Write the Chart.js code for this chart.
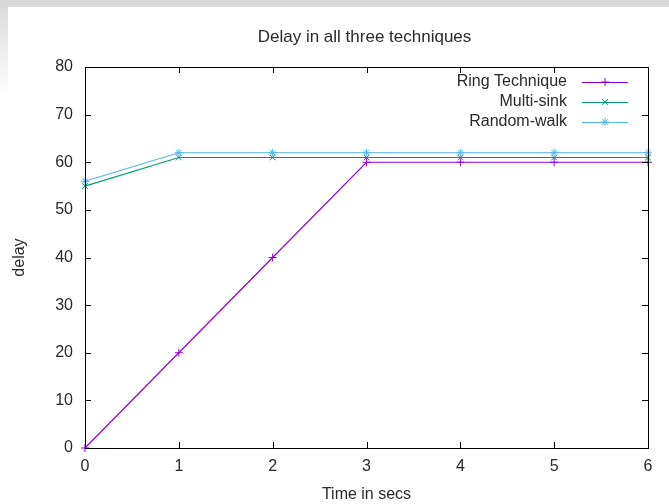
<!DOCTYPE html>
<html>
<head>
<meta charset="utf-8">
<script src="https://cdn.jsdelivr.net/npm/chart.js@4.4.0/dist/chart.umd.min.js"></script>
<style>
  body { margin: 0; background: #fff; }
  #wrap { position: relative; width: 669px; height: 504px; overflow: hidden; }
  #topband { position: absolute; left: 0; top: 0; width: 669px; height: 7px; background: #d9d9d9; }
  #leftband { position: absolute; left: 0; top: 7px; width: 8px; height: 90px;
    background: linear-gradient(to bottom, #dcdcdc, rgba(220,220,220,0)); }
  canvas { position: absolute; left: 0; top: 0; }
</style>
</head>
<body>
<div id="wrap">
  <div id="topband"></div>
  <div id="leftband"></div>
  <canvas id="chart" width="669" height="504"></canvas>
</div>
<script>
// chart data
const chartTitle = 'Delay in all three techniques';
const xTitle = 'Time in secs';
const yTitle = 'delay';
const times = [0, 1, 2, 3, 4, 5, 6];
const ringDelay = [0, 20, 40, 60, 60, 60, 60];
const multiSinkDelay = [55, 61, 61, 61, 61, 61, 61];
const randomWalkDelay = [56, 62, 62, 62, 62, 62, 62];
const seriesNames = ['Ring Technique', 'Multi-sink', 'Random-walk'];

const FONT = 'Liberation Sans';
const FSIZE = 16;
const TEXT = '#2a2a2a';

function toPoints(values) {
  return values.map((v, i) => ({ x: times[i], y: v }));
}

function makeSet(label, values, color, style) {
  return {
    label: label,
    data: toPoints(values),
    borderColor: color,
    backgroundColor: color,
    borderWidth: 1.2,
    pointStyle: style,
    pointRadius: 4,
    pointBorderWidth: 1,
    pointHoverRadius: 4,
    tension: 0,
    fill: false,
    clip: false
  };
}

// gnuplot style frame, mirrored inward ticks, title and legend
const gnuplotFrame = {
  id: 'gnuplotFrame',
  afterDatasetsDraw(chart) {
    const ctx = chart.ctx;
    const a = chart.chartArea;
    const xs = chart.scales.x;
    const ys = chart.scales.y;
    ctx.save();
    ctx.strokeStyle = '#000';
    ctx.lineWidth = 1;
    ctx.beginPath();
    // ticks
    xs.ticks.forEach(t => {
      const px = Math.round(xs.getPixelForValue(t.value)) + 0.5;
      ctx.moveTo(px, a.bottom);
      ctx.lineTo(px, a.bottom - 6);
      ctx.moveTo(px, a.top);
      ctx.lineTo(px, a.top + 6);
    });
    ys.ticks.forEach(t => {
      const py = Math.round(ys.getPixelForValue(t.value)) + 0.5;
      ctx.moveTo(a.left, py);
      ctx.lineTo(a.left + 6, py);
      ctx.moveTo(a.right, py);
      ctx.lineTo(a.right - 6, py);
    });
    ctx.stroke();
    ctx.strokeRect(Math.round(a.left) + 0.5, Math.round(a.top) + 0.5,
      Math.round(a.right - a.left), Math.round(a.bottom - a.top));

    // title
    ctx.fillStyle = TEXT;
    ctx.font = '17px "' + FONT + '"';
    ctx.textAlign = 'center';
    ctx.textBaseline = 'middle';
    ctx.fillText(chartTitle, (a.left + a.right) / 2 - 2, 37);

    // legend
    ctx.font = FSIZE + 'px "' + FONT + '"';
    ctx.textAlign = 'right';
    chart.data.datasets.forEach((ds, i) => {
      const y = 82 + i * 20;
      ctx.fillStyle = TEXT;
      ctx.fillText(ds.label, 567, y);
      ctx.strokeStyle = ds.borderColor;
      ctx.beginPath();
      ctx.moveTo(582, y + 0.5);
      ctx.lineTo(628, y + 0.5);
      ctx.stroke();
      Chart.helpers.drawPoint(ctx, {
        pointStyle: ds.pointStyle, radius: 4, borderWidth: 1, rotation: 0
      }, 605, y);
    });
    ctx.restore();
  }
};

new Chart(document.getElementById('chart'), {
  type: 'line',
  data: {
    datasets: [
      makeSet(seriesNames[0], ringDelay, '#9400d3', 'cross'),
      makeSet(seriesNames[1], multiSinkDelay, '#009e73', 'crossRot'),
      makeSet(seriesNames[2], randomWalkDelay, '#56b4e9', 'star')
    ]
  },
  options: {
    responsive: false,
    animation: false,
    events: [],
    layout: { padding: { top: 67, right: 21, left: 0, bottom: 0 } },
    plugins: {
      legend: { display: false },
      title: { display: false },
      tooltip: { enabled: false }
    },
    scales: {
      x: {
        type: 'linear',
        min: 0,
        max: 6,
        grid: { display: false, drawTicks: false },
        border: { display: false },
        ticks: { stepSize: 1, color: TEXT, padding: 9, font: { family: FONT, size: FSIZE } },
        title: { display: true, text: xTitle, color: TEXT, padding: { top: 0, bottom: 0 },
          font: { family: FONT, size: FSIZE } },
        afterFit(scale) { scale.height = 56; }
      },
      y: {
        min: 0,
        max: 80,
        grid: { display: false, drawTicks: false },
        border: { display: false },
        ticks: { stepSize: 10, color: TEXT, padding: 12, font: { family: FONT, size: FSIZE } },
        title: { display: true, text: yTitle, color: TEXT, padding: { top: 10, bottom: 0 },
          font: { family: FONT, size: FSIZE } },
        afterFit(scale) { scale.width = 85; }
      }
    }
  },
  plugins: [gnuplotFrame]
});
</script>
</body>
</html>
